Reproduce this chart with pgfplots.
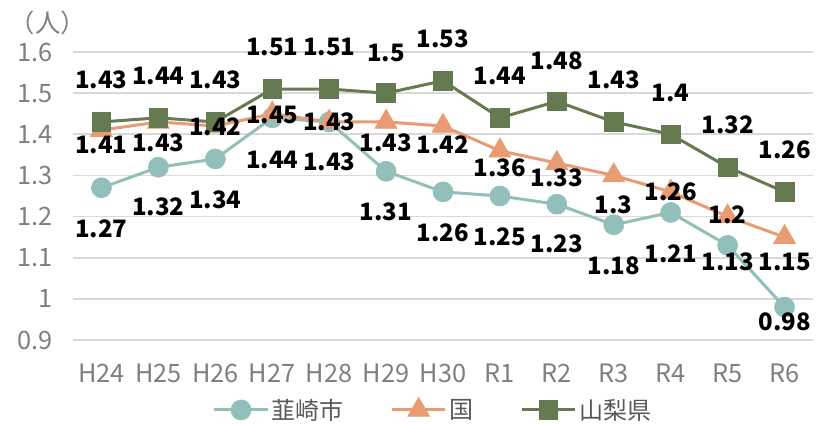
\documentclass[border=0pt]{standalone}
\usepackage{fontspec}
\setmainfont{Noto Sans CJK JP}
\usepackage{pgfplots}
\pgfplotsset{compat=1.18}

\definecolor{nira}{HTML}{93BFBB}
\definecolor{kuni}{HTML}{E99C74}
\definecolor{yama}{HTML}{657A50}
\definecolor{gridc}{HTML}{D9D9D9}
\definecolor{tickc}{HTML}{7F7F7F}
\definecolor{legc}{HTML}{595959}
\newcommand{\tf}{\fontsize{19}{22}\selectfont}
\newcommand{\lf}{\fontsize{18}{21}\selectfont}

\begin{document}
\begin{tikzpicture}
% page = 816 x 424 px, 1px = 0.75pt; axis box starts 73px from left, 84px from bottom
\useasboundingbox (-54.75pt,-63pt) rectangle (557.25pt,255pt);
\begin{axis}[
    at={(0pt,0pt)}, anchor=south west,
    scale only axis, width=555pt, height=216pt,
    xmin=-0.5, xmax=12.5, ymin=0.9, ymax=1.6,
    xtick={0,1,...,12},
    xticklabels={H24,H25,H26,H27,H28,H29,H30,R1,R2,R3,R4,R5,R6},
    ytick={0.9,1.0,1.1,1.2,1.3,1.4,1.5,1.6},
    yticklabels={0.9,1,1.1,1.2,1.3,1.4,1.5,1.6},
    axis line style={draw=none},
    major tick length=0pt,
    ymajorgrids, grid style={gridc, line width=1.2pt},
    tick label style={font=\tf, text=tickc},
    xticklabel style={anchor=base, yshift=-31.5pt},
    yticklabel style={anchor=east, xshift=-12pt},
    clip=false,
    legend columns=3,
    legend style={at={(0.487,-0.243)}, anchor=center, draw=none, fill=none,
                  font=\lf, text=legc,
                  /tikz/every even column/.append style={column sep=33pt}},
    legend image code/.code={\draw[mark repeat=2,mark phase=2]
        plot coordinates {(0pt,0pt) (20pt,0pt) (40pt,0pt)};},
]
% series
\addplot[nira, line width=2.25pt, mark=*, mark size=7.5pt,
         mark options={solid, line width=0.5pt, fill=nira}] coordinates {
    (0,1.27) (1,1.32) (2,1.34) (3,1.44) (4,1.43) (5,1.31) (6,1.26)
    (7,1.25) (8,1.23) (9,1.18) (10,1.21) (11,1.13) (12,0.98)
};
\addlegendentry{韮崎市}
\addplot[kuni, line width=2.25pt, mark=triangle*, mark size=9.5pt,
         mark options={solid, line width=0.5pt, fill=kuni}] coordinates {
    (0,1.41) (1,1.43) (2,1.42) (3,1.45) (4,1.43) (5,1.43) (6,1.42)
    (7,1.36) (8,1.33) (9,1.30) (10,1.26) (11,1.20) (12,1.15)
};
\addlegendentry{国}
\addplot[yama, line width=2.25pt, mark=square*, mark size=7pt,
         mark options={solid, line width=0.5pt, fill=yama}] coordinates {
    (0,1.43) (1,1.44) (2,1.43) (3,1.51) (4,1.51) (5,1.50) (6,1.53)
    (7,1.44) (8,1.48) (9,1.43) (10,1.40) (11,1.32) (12,1.26)
};
\addlegendentry{山梨県}

% data labels (label centre positions, value as meta)
\pgfplotsset{
    dlab/.style={draw=none, forget plot, nodes near coords,
        point meta=explicit symbolic,
        nodes near coords style={anchor=center, inner sep=0pt,
            font=\lf\bfseries, text=black}},
}
\addplot[dlab] coordinates {
    (0,1.170)[1.27] (1,1.223)[1.32] (2,1.240)[1.34] (3,1.337)[1.44]
    (4,1.333)[1.43] (5,1.211)[1.31] (6,1.160)[1.26] (7,1.150)[1.25]
    (8,1.133)[1.23] (9,1.080)[1.18] (10,1.109)[1.21] (11,1.090)[1.13]
    (12,0.944)[0.98]
};
\addplot[dlab] coordinates {
    (0,1.374)[1.41] (1,1.379)[1.43] (2,1.418)[1.42] (3,1.447)[1.45]
    (4,1.430)[1.43] (5,1.379)[1.43] (6,1.374)[1.42] (7,1.318)[1.36]
    (8,1.294)[1.33] (9,1.228)[1.3] (10,1.260)[1.26] (11,1.204)[1.2]
    (12,1.090)[1.15]
};
\addplot[dlab] coordinates {
    (0,1.532)[1.43] (1,1.542)[1.44] (2,1.532)[1.43] (3,1.612)[1.51]
    (4,1.612)[1.51] (5,1.598)[1.5] (6,1.632)[1.53] (7,1.542)[1.44]
    (8,1.578)[1.48] (9,1.532)[1.43] (10,1.500)[1.4] (11,1.423)[1.32]
    (12,1.362)[1.26]
};
\end{axis}
\node[font=\tf, text=tickc] at (-18.75pt,237.75pt) {（人）};
\end{tikzpicture}
\end{document}
